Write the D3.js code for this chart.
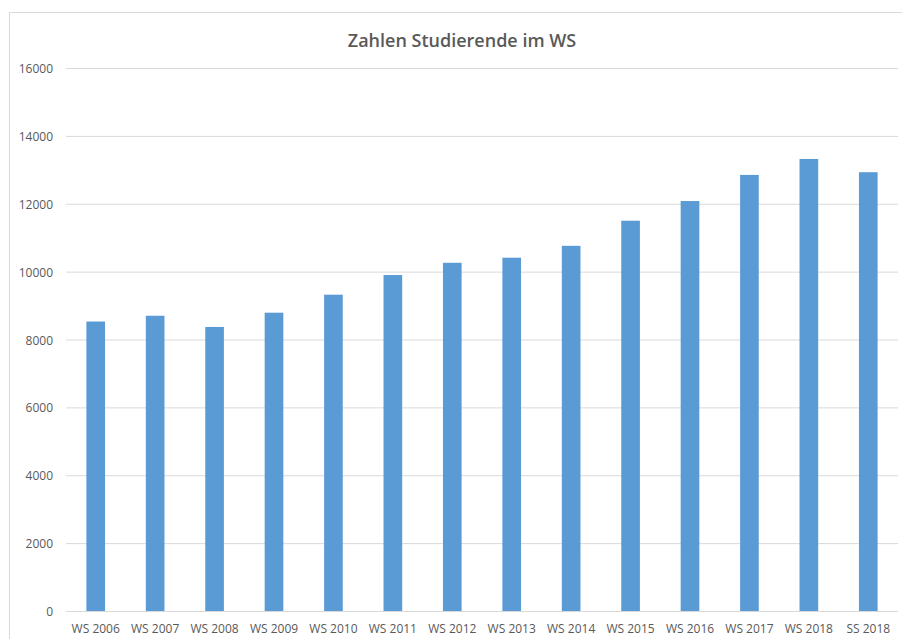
<!DOCTYPE html>
<html>
<head>
<meta charset="utf-8">
<script src="https://cdn.jsdelivr.net/npm/d3@7"></script>
<style>
  body { margin: 0; background: #fff; }
  text { font-family: "Open Sans", sans-serif; fill: #595959; }
</style>
</head>
<body>
<div id="chart"></div>
<script>
// semesters and student counts
var semesters = ["WS 2006", "WS 2007", "WS 2008", "WS 2009", "WS 2010", "WS 2011", "WS 2012",
                 "WS 2013", "WS 2014", "WS 2015", "WS 2016", "WS 2017", "WS 2018", "SS 2018"];
var students = [8530, 8700, 8370, 8790, 9320, 9900, 10260, 10410, 10760, 11500, 12080, 12850, 13320, 12930];
var yTicks = [0, 2000, 4000, 6000, 8000, 10000, 12000, 14000, 16000];
var title = "Zahlen Studierende im WS";

var width = 902, height = 639;
var margin = {top: 68, right: 4, bottom: 28, left: 66};

var svg = d3.select("#chart").append("svg")
    .attr("width", width)
    .attr("height", height);

// chart frame (runs off the right and bottom edge like in the screenshot)
svg.append("rect")
    .attr("x", 9.5)
    .attr("y", 12.5)
    .attr("width", width + 20)
    .attr("height", height + 20)
    .style("fill", "none")
    .style("stroke", "#d9d9d9");

var x = d3.scaleBand()
    .domain(semesters)
    .range([margin.left, width - margin.right])
    .paddingInner(0.686)
    .paddingOuter(0.343);

var y = d3.scaleLinear()
    .domain([0, 16000])
    .range([height - margin.bottom, margin.top]);

// grid
svg.append("g")
    .attr("transform", "translate(" + margin.left + ",0)")
    .call(d3.axisLeft(y).tickValues(yTicks).tickSize(-(width - margin.right - margin.left)).tickFormat(""))
    .call(g => g.select(".domain").remove())
    .selectAll("line")
    .style("stroke", "#d9d9d9");

// y labels
svg.append("g")
    .selectAll("text")
    .data(yTicks)
    .enter()
    .append("text")
    .attr("x", 53)
    .attr("y", d => y(d) + 5)
    .attr("text-anchor", "end")
    .style("font-size", "12px")
    .text(d => d);

// bars
svg.append("g")
    .selectAll("rect")
    .data(students)
    .enter()
    .append("rect")
    .attr("x", (d, i) => x(semesters[i]))
    .attr("y", d => y(d))
    .attr("width", x.bandwidth())
    .attr("height", d => y(0) - y(d))
    .style("fill", "#5b9bd5");

// x axis
var xAxis = svg.append("g")
    .attr("transform", "translate(0," + y(0) + ")")
    .call(d3.axisBottom(x).tickSize(0).tickPadding(13));
xAxis.select(".domain")
    .attr("d", "M" + margin.left + ",0.5H" + (width - margin.right))
    .style("stroke", "#d9d9d9");
xAxis.selectAll("text")
    .style("font-size", "12px")
    .style("font-family", "'Open Sans', sans-serif")
    .style("fill", "#595959");

svg.append("text")
    .attr("x", 462)
    .attr("y", 47)
    .attr("text-anchor", "middle")
    .style("font-size", "18px")
    .style("font-weight", "600")
    .text(title);
</script>
</body>
</html>
